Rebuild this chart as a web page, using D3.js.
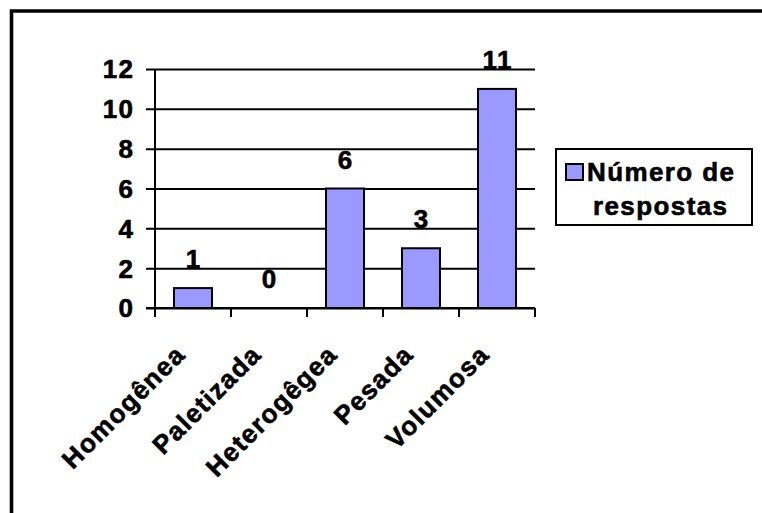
<!DOCTYPE html>
<html>
<head>
<meta charset="utf-8">
<script src="https://cdn.jsdelivr.net/npm/d3@7"></script>
<style>
  html, body { margin: 0; padding: 0; background: #fff; }
  svg { display: block; }
  text { font-family: Arial, "Liberation Sans", Helvetica, sans-serif; font-weight: bold; fill: #000;
         stroke: #000; stroke-width: 0.6px; }
</style>
</head>
<body>
<svg id="chart" width="762" height="513"></svg>
<script>
// Tipos de carga e número de respostas
const categories = ["Homogênea", "Paletizada", "Heterogêgea", "Pesada", "Volumosa"];
const respostas = [1, 0, 6, 3, 11];
const yTicks = [0, 2, 4, 6, 8, 10, 12];
const seriesName = ["Número de", "respostas"];

const svg = d3.select("#chart");
const W = 762, H = 513;
const fontSize = 26, spacing = 1.4;
const barFill = "#9999FF";

svg.append("rect").attr("width", W).attr("height", H).attr("fill", "#fff");

// Moldura (topo e lateral esquerda)
svg.append("path")
  .attr("d", `M11.5,${H} L11.5,11 L${W},11`)
  .attr("fill", "none").attr("stroke", "#000").attr("stroke-width", 3.6);

const plot = { left: 155, right: 535, top: 69, bottom: 308 };

const y = d3.scaleLinear().domain([0, 12]).range([plot.bottom, plot.top]);
const x = d3.scaleBand().domain(categories).range([plot.left, plot.right])
  .paddingInner(0).paddingOuter(0);
const barW = x.bandwidth() / 2;

// Linhas de grade + marcas do eixo Y
const yAxis = d3.axisLeft(y).tickValues(yTicks).tickSize(-(plot.right - plot.left)).tickFormat("");
const gy = svg.append("g").attr("transform", `translate(${plot.left},0)`).call(yAxis);
gy.select(".domain").remove();
gy.selectAll(".tick line")
  .attr("x1", -9)
  .attr("stroke", "#000").attr("stroke-width", 2);

// Rótulos do eixo Y
svg.append("g").selectAll("text").data(yTicks).join("text")
  .attr("x", 133 + spacing)
  .attr("y", d => y(d))
  .attr("dy", "0.36em")
  .attr("text-anchor", "end")
  .attr("font-size", fontSize)
  .attr("letter-spacing", spacing)
  .text(d => d);

// Eixo Y
svg.append("line")
  .attr("x1", plot.left).attr("x2", plot.left)
  .attr("y1", plot.top).attr("y2", plot.bottom)
  .attr("stroke", "#000").attr("stroke-width", 2);

// Barras
svg.append("g").selectAll("rect").data(respostas).join("rect")
  .attr("x", (d, i) => x(categories[i]) + (x.bandwidth() - barW) / 2)
  .attr("y", d => y(d))
  .attr("width", barW)
  .attr("height", d => y(0) - y(d))
  .attr("fill", barFill)
  .attr("stroke", "#000").attr("stroke-width", 2)
  .style("display", d => d === 0 ? "none" : null);

// Eixo X com marcas nos limites das categorias
const boundaries = categories.map(c => x(c)).concat([plot.right]);
svg.append("line")
  .attr("x1", plot.left - 9).attr("x2", plot.right)
  .attr("y1", plot.bottom).attr("y2", plot.bottom)
  .attr("stroke", "#000").attr("stroke-width", 2);
svg.append("g").selectAll("line").data(boundaries).join("line")
  .attr("x1", d => d).attr("x2", d => d)
  .attr("y1", plot.bottom).attr("y2", plot.bottom + 9)
  .attr("stroke", "#000").attr("stroke-width", 2);

// Valores sobre as barras
svg.append("g").selectAll("text").data(respostas).join("text")
  .attr("x", (d, i) => x(categories[i]) + x.bandwidth() / 2 + spacing / 2)
  .attr("y", d => y(d) - 20)
  .attr("text-anchor", "middle")
  .attr("font-size", fontSize)
  .attr("letter-spacing", spacing)
  .text(d => d);

// Rótulos das categorias, inclinados a 45°
svg.append("g").selectAll("text").data(categories).join("text")
  .attr("transform", c => `translate(${x(c) + x.bandwidth() / 2 - 6},356) rotate(-45)`)
  .attr("text-anchor", "end")
  .attr("font-size", fontSize)
  .attr("letter-spacing", spacing)
  .text(c => c);

// Legenda
const lg = svg.append("g");
lg.append("rect")
  .attr("x", 556).attr("y", 149).attr("width", 196).attr("height", 76)
  .attr("fill", "#fff").attr("stroke", "#000").attr("stroke-width", 2);
lg.append("rect")
  .attr("x", 566).attr("y", 164).attr("width", 17).attr("height", 16)
  .attr("fill", barFill).attr("stroke", "#000").attr("stroke-width", 2);
lg.append("text")
  .attr("x", 587).attr("y", 181)
  .attr("font-size", fontSize).attr("letter-spacing", spacing)
  .text(seriesName[0]);
lg.append("text")
  .attr("x", 660 + spacing / 2).attr("y", 215)
  .attr("text-anchor", "middle")
  .attr("font-size", fontSize).attr("letter-spacing", spacing)
  .text(seriesName[1]);
</script>
</body>
</html>
